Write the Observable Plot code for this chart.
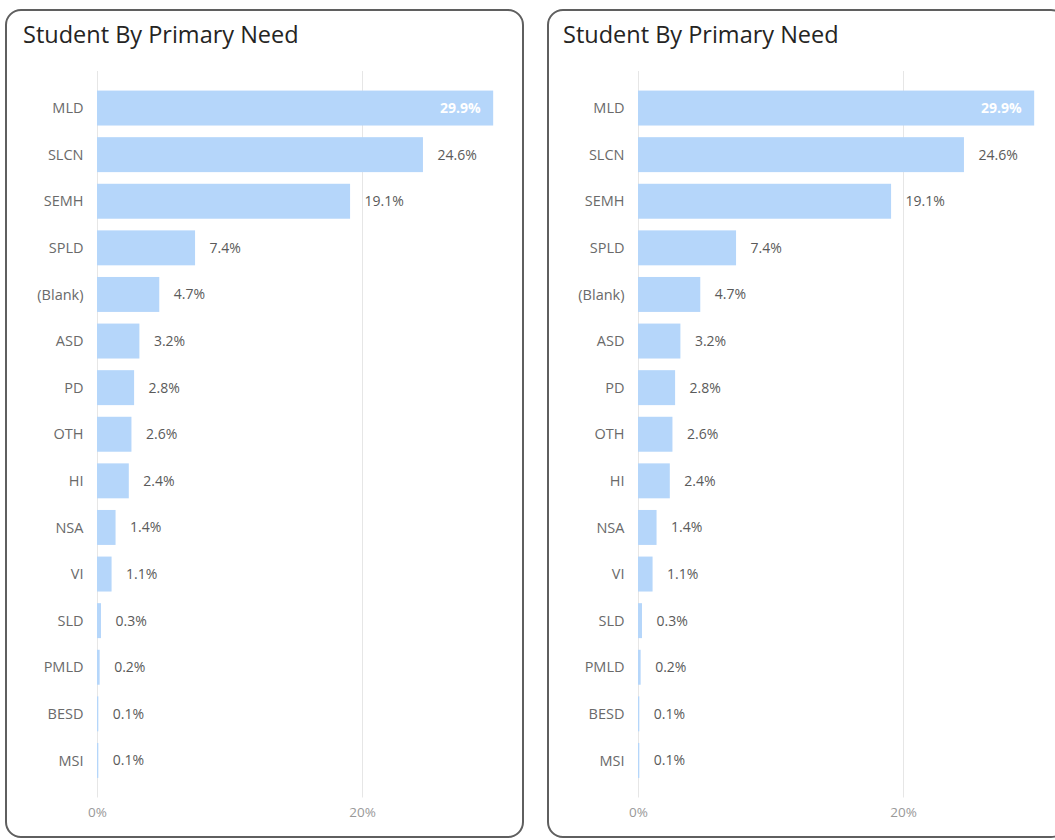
<!DOCTYPE html>
<html>
<head>
<meta charset="utf-8">
<script src="https://cdn.jsdelivr.net/npm/d3@7"></script>
<script src="https://cdn.jsdelivr.net/npm/@observablehq/plot@0.6"></script>
<style>
  html, body { margin: 0; padding: 0; background: #fff; width: 1055px; height: 840px; overflow: hidden; }
  body { position: relative; font-family: "Open Sans", "Noto Sans", sans-serif; }
  .panel { position: absolute; border: 2px solid #5f5f5f; border-radius: 16px; box-sizing: border-box; background: #fff; }
  .title { position: absolute; font-size: 23.5px; color: #252423; white-space: nowrap; }
  .chart { position: absolute; top: 0; }
</style>
</head>
<body>
<div class="panel" style="left:5px; top:9px; width:519px; height:829px;"></div>
<div class="panel" style="left:547px; top:9px; width:520px; height:829px;"></div>
<div class="title" style="left:23px; top:18px;">Student By Primary Need</div>
<div class="title" style="left:563px; top:18px;">Student By Primary Need</div>
<div class="chart" id="c1" style="left:0px;"></div>
<div class="chart" id="c2" style="left:540px;"></div>
<script>
const categories = ["MLD", "SLCN", "SEMH", "SPLD", "(Blank)", "ASD", "PD", "OTH", "HI", "NSA", "VI", "SLD", "PMLD", "BESD", "MSI"];
const percentages = [29.9, 24.6, 19.1, 7.4, 4.7, 3.2, 2.8, 2.6, 2.4, 1.4, 1.1, 0.3, 0.2, 0.1, 0.1];
const xTicks = [0, 20];

const rows = categories.map((c, i) => ({category: c, value: percentages[i]}));
const maxV = d3.max(percentages);
const fmt = v => `${v.toFixed(1)}%`;

function makeChart(width, marginLeft, marginRight) {
  return Plot.plot({
    width,
    height: 830,
    marginTop: 71,
    marginBottom: 32.5,
    marginLeft,
    marginRight,
    style: {fontFamily: '"Open Sans", "Noto Sans", sans-serif', fontSize: "14px", color: "#666", background: "transparent"},
    x: {domain: [0, 30], ticks: xTicks, tickFormat: d => `${d}%`, label: null},
    y: {domain: categories, paddingInner: 0.25, paddingOuter: 0.42, round: false, label: null},
    marks: [
      Plot.gridX(xTicks, {stroke: "#e6e6e6", strokeOpacity: 1}),
      Plot.barX(rows, {x: "value", y: "category", fill: "#b5d6fa"}),
      Plot.text(rows.filter(d => d.value !== maxV), {x: "value", y: "category", text: d => fmt(d.value), textAnchor: "start", dx: 14, fill: "#5a5a5a", fontSize: 14}),
      Plot.text(rows.filter(d => d.value === maxV), {x: "value", y: "category", text: d => fmt(d.value), textAnchor: "end", dx: -13, fill: "#fff", fontWeight: "bold", fontSize: 14}),
      Plot.axisX({ticks: xTicks, tickFormat: d => `${d}%`, tickSize: 0, tickPadding: 9, fill: "#999", fontSize: 13.5, label: null}),
      Plot.axisY({tickSize: 0, tickPadding: 14, fill: "#6a6a6a", fontSize: 14.5, label: null})
    ]
  });
}

document.getElementById("c1").appendChild(makeChart(530, 97, 35.5));
document.getElementById("c2").appendChild(makeChart(515, 98, 19.5));
</script>
</body>
</html>
